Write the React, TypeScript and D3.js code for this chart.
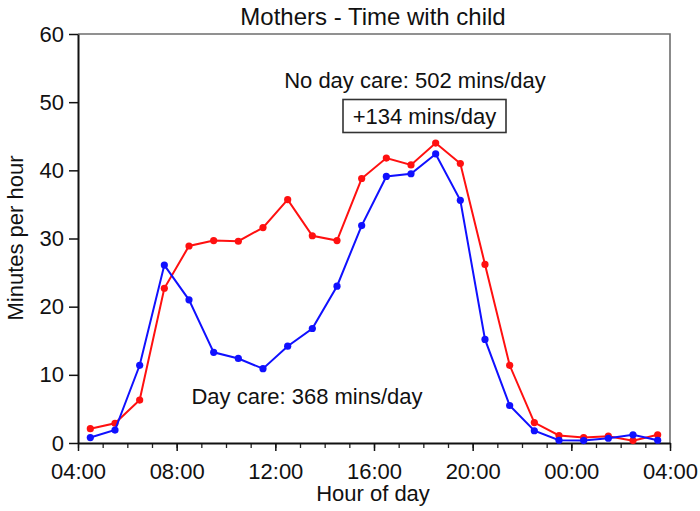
import * as d3 from 'd3';
import React, { useEffect, useRef } from 'react';

// half-hour slot midpoints (hours since midnight, continuing past 24)
const slotHours = [
  4.5, 5.5, 6.5, 7.5, 8.5, 9.5, 10.5, 11.5, 12.5, 13.5, 14.5, 15.5,
  16.5, 17.5, 18.5, 19.5, 20.5, 21.5, 22.5, 23.5, 24.5, 25.5, 26.5, 27.5,
];

// minutes per hour, mothers with a child in day care
const dayCare = [
  0.8, 1.9, 11.4, 26.1, 21.0, 13.3, 12.4, 10.9, 14.2, 16.8, 23.0, 31.9,
  39.1, 39.5, 42.4, 35.6, 15.2, 5.5, 1.8, 0.4, 0.35, 0.7, 1.2, 0.4,
];

// minutes per hour, mothers without day care
const noDayCare = [
  2.1, 2.9, 6.3, 22.7, 28.9, 29.7, 29.6, 31.6, 35.7, 30.4, 29.7, 38.8,
  41.8, 40.8, 44.0, 41.0, 26.2, 11.4, 3.0, 1.1, 0.8, 1.0, 0.35, 1.2,
];

const majorHours = [4, 8, 12, 16, 20, 24, 28];
const xTickLabels = ['04:00', '08:00', '12:00', '16:00', '20:00', '00:00', '04:00'];
const minorHours = [
  4, 5, 6, 7, 8, 9, 10, 11, 12, 13, 14, 15, 16, 17, 18, 19, 20, 21, 22, 23,
  24, 25, 26, 27, 28,
];
const yTicks = [0, 10, 20, 30, 40, 50, 60];

const FONT = '"Liberation Sans", Arial, sans-serif';

const App: React.FC = () => {
  const svgRef = useRef<SVGSVGElement | null>(null);

  useEffect(() => {
    if (!svgRef.current) return;
    const width = 700;
    const height = 511;
    const left = 78, right = 670, top = 34, bottom = 443;

    const svg = d3.select(svgRef.current);
    svg.selectAll('*').remove();
    svg.attr('width', width).attr('height', height);

    const x = d3.scaleLinear().domain([4, 28]).range([left, right]);
    const y = d3.scaleLinear().domain([0, 60]).range([bottom, top]);

    // frame: top and right in grey
    svg.append('path')
      .attr('d', `M${left},${top}H${right}V${bottom}`)
      .attr('fill', 'none')
      .attr('stroke', '#6e6e6e')
      .attr('stroke-width', 1.6);

    // minor hour ticks
    const minor = svg.append('g')
      .attr('transform', `translate(0,${bottom})`)
      .call(d3.axisBottom(x).tickValues(minorHours).tickSize(5).tickFormat(() => ''));
    minor.select('.domain').remove();
    minor.selectAll('line').attr('stroke', '#222').attr('stroke-width', 1.3);

    // x axis
    const xAxis = svg.append('g')
      .attr('transform', `translate(0,${bottom})`)
      .call(
        d3.axisBottom(x)
          .tickValues(majorHours)
          .tickSize(8)
          .tickPadding(12)
          .tickSizeOuter(0)
          .tickFormat((_, i) => xTickLabels[i])
      );
    xAxis.select('.domain').attr('stroke', '#111').attr('stroke-width', 2);
    xAxis.selectAll('line').attr('stroke', '#111').attr('stroke-width', 1.5);
    xAxis.selectAll('text').attr('font-size', 22).attr('font-family', FONT).attr('fill', '#111');

    // y axis
    const yAxis = svg.append('g')
      .attr('transform', `translate(${left},0)`)
      .call(d3.axisLeft(y).tickValues(yTicks).tickSize(9).tickPadding(5).tickSizeOuter(0));
    yAxis.select('.domain').attr('stroke', '#111').attr('stroke-width', 2);
    yAxis.selectAll('line').attr('stroke', '#111').attr('stroke-width', 1.5);
    yAxis.selectAll('text').attr('font-size', 22).attr('font-family', FONT).attr('fill', '#111');

    const line = d3.line<number>()
      .x((_, i) => x(slotHours[i]))
      .y((d) => y(d));

    const series = [
      { values: noDayCare, color: '#ff1010' },
      { values: dayCare, color: '#1010ff' },
    ];

    series.forEach((s) => {
      svg.append('path')
        .datum(s.values)
        .attr('d', line)
        .attr('fill', 'none')
        .attr('stroke', s.color)
        .attr('stroke-width', 2);
      svg.append('g')
        .selectAll('circle')
        .data(s.values)
        .enter()
        .append('circle')
        .attr('cx', (_, i) => x(slotHours[i]))
        .attr('cy', (d) => y(d))
        .attr('r', 3.6)
        .attr('fill', s.color);
    });

    const text = (tx: number, ty: number, str: string, size = 22) =>
      svg.append('text')
        .attr('x', tx)
        .attr('y', ty)
        .attr('text-anchor', 'middle')
        .attr('font-family', FONT)
        .attr('font-size', size)
        .attr('fill', '#111')
        .text(str);

    text(373, 25, 'Mothers - Time with child', 24);
    text(415, 88, 'No day care: 502 mins/day');
    text(307, 404, 'Day care: 368 mins/day');
    text(373, 501, 'Hour of day');

    svg.append('rect')
      .attr('x', 343)
      .attr('y', 99.5)
      .attr('width', 163)
      .attr('height', 33)
      .attr('fill', 'white')
      .attr('stroke', '#333')
      .attr('stroke-width', 1.6);
    text(424.5, 124, '+134 mins/day');

    svg.append('text')
      .attr('transform', `translate(23,238) rotate(-90)`)
      .attr('text-anchor', 'middle')
      .attr('font-family', FONT)
      .attr('font-size', 22)
      .attr('fill', '#111')
      .text('Minutes per hour');
  }, []);

  return <svg ref={svgRef} style={{ position: 'absolute', left: 0, top: 0 }} />;
};

export default App;
